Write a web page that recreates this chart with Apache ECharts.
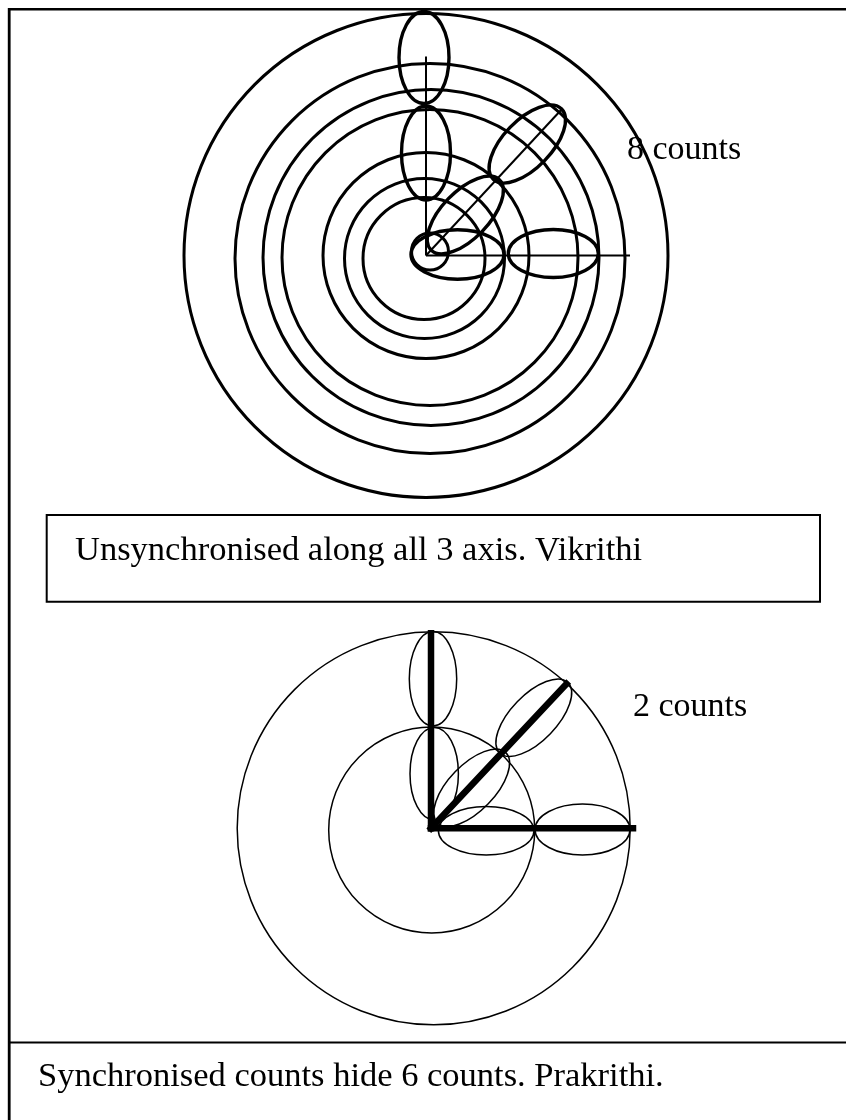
<!DOCTYPE html>
<html><head><meta charset="utf-8">
<script src="https://cdn.jsdelivr.net/npm/echarts@6/dist/echarts.min.js"></script>
<style>html,body{margin:0;padding:0;background:#fff}#c{width:846px;height:1120px}</style>
</head><body><div id="c"></div>
<script>
// Units: 1 = one count-ellipse length; origin = point where the three axes meet.
// Top diagram (Vikrithi, unsynchronised)
const topCircles = [ // [cx, cy, r]
  [0.00, 0.00, 2.42],
  [0.04, -0.03, 1.95],
  [0.05, -0.02, 1.68],
  [0.04, -0.02, 1.48],
  [0.00, 0.00, 1.03],
  [-0.015, -0.03, 0.80],
  [-0.02, -0.03, 0.61],
  [0.04, 0.04, 0.185]
];
const topEllipses = [ // [cx, cy, semiMajor, semiMinor, angleDeg]
  [-0.02, 1.98, 0.46, 0.25, 90],
  [0.00, 1.025, 0.47, 0.245, 90],
  [0.315, 0.01, 0.465, 0.247, 0],
  [1.273, 0.02, 0.45, 0.24, 0],
  [0.393, 0.405, 0.49, 0.235, 46],
  [1.013, 1.115, 0.49, 0.24, 46]
];
const topAxes = [ // [x1, y1, x2, y2]
  [0, 0, 0, 1.99],
  [0, 0, 2.04, 0],
  [0, 0, 1.367, 1.472]
];
// Bottom diagram (Prakrithi, synchronised)
const bottomCircles = [
  [0.027, 0.00, 1.965],
  [0.007, -0.017, 1.03]
];
const bottomEllipses = [
  [0.02, 1.495, 0.472, 0.237, 90],
  [0.032, 0.546, 0.463, 0.242, 90],
  [0.552, -0.025, 0.478, 0.242, 0],
  [1.515, -0.012, 0.475, 0.255, 0],
  [0.407, 0.405, 0.49, 0.23, 46],
  [1.028, 1.106, 0.49, 0.23, 46]
];
const bottomAxes = [
  [0, 0, 0, 1.95],
  [0, 0, 2.02, 0],
  [0, 0, 1.355, 1.445]
];
const labels = ['8 counts', 'Unsynchronised along all 3 axis. Vikrithi', '2 counts', 'Synchronised counts hide 6 counts. Prakrithi.'];

const FONT = '"Liberation Serif", "Times New Roman", serif';

function circleSeries(data, gi, lw) {
  return {
    type: 'custom', xAxisIndex: gi, yAxisIndex: gi, data: data, silent: true, z: 2,
    renderItem: function (params, api) {
      const c = api.coord([api.value(0), api.value(1)]);
      const r = api.size([api.value(2), 0])[0];
      return { type: 'circle', shape: { cx: c[0], cy: c[1], r: r },
        style: { fill: 'none', stroke: '#000', lineWidth: lw } };
    }
  };
}
function ellipseSeries(data, gi, lw) {
  return {
    type: 'custom', xAxisIndex: gi, yAxisIndex: gi, data: data, silent: true, z: 3,
    renderItem: function (params, api) {
      const c = api.coord([api.value(0), api.value(1)]);
      const a = api.size([api.value(2), 0])[0];
      const b = api.size([0, api.value(3)])[1];
      return { type: 'ellipse', x: c[0], y: c[1], rotation: api.value(4) * Math.PI / 180,
        shape: { cx: 0, cy: 0, rx: a, ry: b },
        style: { fill: 'none', stroke: '#000', lineWidth: lw } };
    }
  };
}
function axisSeries(data, gi, lw, cap) {
  return {
    type: 'custom', xAxisIndex: gi, yAxisIndex: gi, data: data, silent: true, z: 4,
    renderItem: function (params, api) {
      const p1 = api.coord([api.value(0), api.value(1)]);
      const p2 = api.coord([api.value(2), api.value(3)]);
      return { type: 'line', shape: { x1: p1[0], y1: p1[1], x2: p2[0], y2: p2[1] },
        style: { stroke: '#000', lineWidth: lw, lineCap: cap } };
    }
  };
}
const hiddenAxis = { type: 'value', min: -2.5, max: 2.5, show: false };

const chart = echarts.init(document.getElementById('c'), null, { renderer: 'canvas' });
chart.setOption({
  animation: false,
  backgroundColor: '#fff',
  grid: [
    { left: 176, top: 5.5, width: 500, height: 500 },
    { left: 181, top: 578.3, width: 500, height: 500 }
  ],
  xAxis: [Object.assign({ gridIndex: 0 }, hiddenAxis), Object.assign({ gridIndex: 1 }, hiddenAxis)],
  yAxis: [Object.assign({ gridIndex: 0 }, hiddenAxis), Object.assign({ gridIndex: 1 }, hiddenAxis)],
  series: [
    circleSeries(topCircles, 0, 3),
    ellipseSeries(topEllipses, 0, 3.4),
    axisSeries(topAxes, 0, 2, 'butt'),
    circleSeries(bottomCircles, 1, 1.5),
    ellipseSeries(bottomEllipses, 1, 1.5),
    axisSeries(bottomAxes, 1, 6.5, 'square')
  ],
  graphic: [
    { type: 'line', shape: { x1: 8, y1: 9.2, x2: 846, y2: 9.2 }, style: { stroke: '#000', lineWidth: 2.5 } },
    { type: 'line', shape: { x1: 9.2, y1: 8, x2: 9.2, y2: 1120 }, style: { stroke: '#000', lineWidth: 2.8 } },
    { type: 'line', shape: { x1: 9, y1: 1042.5, x2: 846, y2: 1042.5 }, style: { stroke: '#000', lineWidth: 2 } },
    { type: 'rect', shape: { x: 46.7, y: 515, width: 773.3, height: 86.7 }, style: { fill: 'none', stroke: '#000', lineWidth: 2 } },
    { type: 'text', x: 627, y: 150, style: { text: labels[0], font: '34px ' + FONT, fill: '#000', verticalAlign: 'middle' } },
    { type: 'text', x: 75, y: 551, style: { text: labels[1], font: '34.5px ' + FONT, fill: '#000', verticalAlign: 'middle' } },
    { type: 'text', x: 633, y: 707, style: { text: labels[2], font: '34px ' + FONT, fill: '#000', verticalAlign: 'middle' } },
    { type: 'text', x: 38, y: 1077, style: { text: labels[3], font: '34.5px ' + FONT, fill: '#000', verticalAlign: 'middle' } }
  ]
});
</script>
</body></html>
